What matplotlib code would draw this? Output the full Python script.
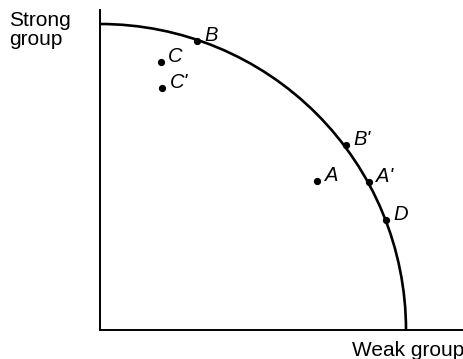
import numpy as np
import matplotlib
matplotlib.use("Agg")
import matplotlib.pyplot as plt
from matplotlib.patches import Arc

plt.rcParams['font.family'] = ['Liberation Sans', 'DejaVu Sans']

# points (utility of weak group, utility of strong group), frontier radius = 1
point_labels = ["A", "B", "B'", "A'", "D", "C", "C'"]
weak_util = [0.71, 0.317, 0.803, 0.878, 0.935, 0.198, 0.204]
strong_util = [0.487, 0.944, 0.605, 0.483, 0.359, 0.877, 0.791]
frontier_radius = 1.0

x_label = "Weak group"
y_label = ["Strong", "group"]

W, H = 464, 359
fig = plt.figure(figsize=(W / 100, H / 100), dpi=100)
# corner of the axes sits at pixel (100, 330), one unit = 306 px
ax = fig.add_axes([100 / W, 29 / H, 364 / W, 320 / H])
ax.set_xlim(0, 364 / 306)
ax.set_ylim(0, 320 / 306)

for s in ['top', 'right']:
    ax.spines[s].set_visible(False)
for s in ['left', 'bottom']:
    ax.spines[s].set_linewidth(1.4)
ax.set_xticks([])
ax.set_yticks([])

# utility possibility frontier
ax.add_patch(Arc((0, 0), 2 * frontier_radius, 2 * frontier_radius,
                 theta1=0, theta2=90, color='black', lw=1.9))

ax.plot(weak_util, strong_util, 'o', color='black', ms=4.2, zorder=3)
for lab, xv, yv in zip(point_labels, weak_util, strong_util):
    ax.annotate(lab, (xv, yv), xytext=(5.5, 0), textcoords='offset points',
                ha='left', va='baseline', fontsize=14.5, style='italic')

# y-axis title, two lines
for i, word in enumerate(y_label):
    fig.text(9 / W, 1 - (26 + 19 * i) / H, word, ha='left', va='baseline',
             fontsize=15)
fig.text(464 / W, 3 / H, x_label, ha='right', va='baseline', fontsize=15)

fig.savefig("out.png", dpi=100)
